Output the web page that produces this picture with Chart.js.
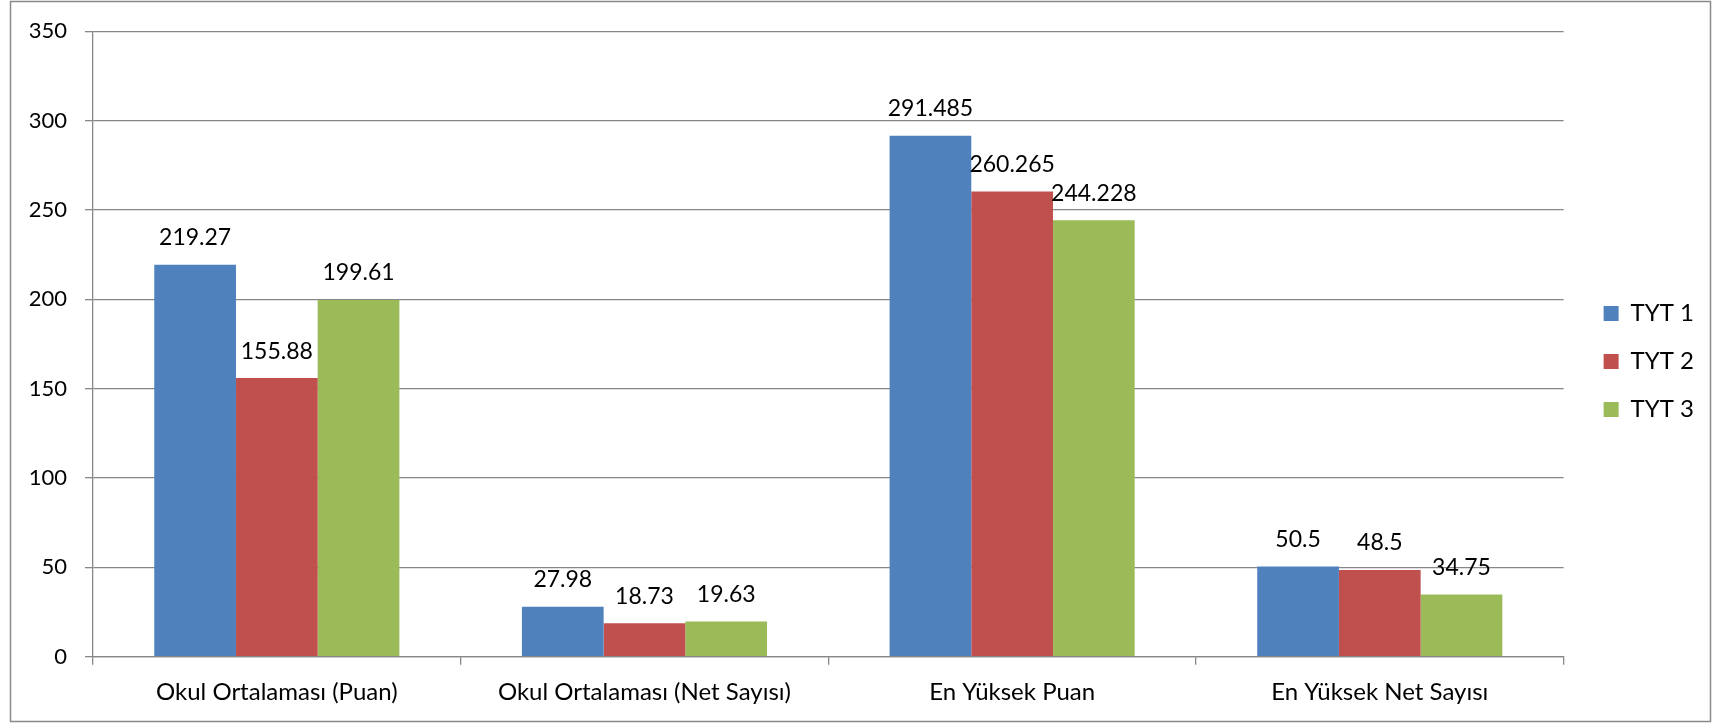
<!DOCTYPE html>
<html>
<head>
<meta charset="utf-8">
<script src="https://cdn.jsdelivr.net/npm/chart.js@4"></script>
<style>
  html, body { margin: 0; padding: 0; background: #fff; }
  #wrap { position: relative; width: 1715px; height: 723px; }
</style>
</head>
<body>
<div id="wrap"><canvas id="c" width="1715" height="723"></canvas></div>
<script>
const categories = ["Okul Ortalaması (Puan)", "Okul Ortalaması (Net Sayısı)", "En Yüksek Puan", "En Yüksek Net Sayısı"];
const seriesNames = ["TYT 1", "TYT 2", "TYT 3"];
const tyt1 = [219.27, 27.98, 291.485, 50.5];
const tyt2 = [155.88, 18.73, 260.265, 48.5];
const tyt3 = [199.61, 19.63, 244.228, 34.75];
const yTicks = [0, 50, 100, 150, 200, 250, 300, 350];

const colors = ["#4F81BD", "#C0504D", "#9BBB59"];
const FONT = "Lato, 'Open Sans', sans-serif";
const GRID = "#878787";

const bgPlugin = {
  id: 'bg',
  beforeDraw(chart) {
    const ctx = chart.ctx;
    ctx.save();
    ctx.fillStyle = '#fff';
    ctx.fillRect(0, 0, chart.width, chart.height);
    ctx.restore();
  },
  afterDraw(chart) {
    const ctx = chart.ctx;
    ctx.save();
    ctx.strokeStyle = '#8a8a8a';
    ctx.lineWidth = 1.5;
    ctx.strokeRect(10.5, 1.5, 1700, 720);
    ctx.restore();
  }
};

const labelPlugin = {
  id: 'valueLabels',
  afterDatasetsDraw(chart) {
    const ctx = chart.ctx;
    ctx.save();
    ctx.font = "23px " + FONT;
    ctx.fillStyle = '#000';
    ctx.textAlign = 'center';
    ctx.textBaseline = 'middle';
    chart.data.datasets.forEach((ds, di) => {
      const meta = chart.getDatasetMeta(di);
      meta.data.forEach((bar, i) => {
        ctx.fillText(String(ds.data[i]), bar.x, bar.y - 27);
      });
    });
    ctx.restore();
  }
};

new Chart(document.getElementById('c'), {
  type: 'bar',
  data: {
    labels: categories,
    datasets: [
      { label: seriesNames[0], data: tyt1, backgroundColor: colors[0], borderWidth: 0 },
      { label: seriesNames[1], data: tyt2, backgroundColor: colors[1], borderWidth: 0 },
      { label: seriesNames[2], data: tyt3, backgroundColor: colors[2], borderWidth: 0 }
    ]
  },
  options: {
    responsive: false,
    animation: false,
    devicePixelRatio: 1,
    layout: { padding: { left: 0, top: 18, right: 11, bottom: 18 } },
    datasets: { bar: { categoryPercentage: 3 / 4.5, barPercentage: 1 } },
    plugins: {
      legend: {
        position: 'right',
        align: 'center',
        labels: {
          font: { family: FONT, size: 24 },
          color: '#000',
          boxWidth: 15,
          boxHeight: 15,
          padding: 24
        }
      },
      tooltip: { enabled: false }
    },
    scales: {
      x: {
        offset: true,
        afterFit(scale) { scale.height = 48.3; },
        grid: { display: true, drawOnChartArea: false, drawTicks: true, tickLength: 8, color: GRID, lineWidth: 1.3, offset: true },
        border: { display: true, color: GRID, width: 1.3 },
        ticks: { font: { family: FONT, size: 24 }, color: '#000', padding: 13, maxRotation: 0 }
      },
      topSpacer: {
        type: 'category',
        position: 'top',
        display: true,
        grid: { display: false, drawTicks: false },
        border: { display: false },
        ticks: { display: false },
        afterFit(scale) { scale.height = 13; }
      },
      y: {
        min: 0,
        max: 350,
        afterBuildTicks(scale) { scale.ticks = yTicks.map(v => ({ value: v })); },
        afterFit(scale) { scale.width = 93; },
        grid: { display: true, drawTicks: true, tickLength: 8, color: GRID, lineWidth: 1.3 },
        border: { display: true, color: GRID, width: 1.3 },
        ticks: { font: { family: FONT, size: 22 }, color: '#000', padding: 18 }
      },
      spacer: {
        type: 'linear',
        position: 'right',
        display: true,
        grid: { display: false, drawTicks: false },
        border: { display: false },
        ticks: { display: false },
        afterFit(scale) { scale.width = 16; }
      }
    }
  },
  plugins: [bgPlugin, labelPlugin]
});
</script>
</body>
</html>
